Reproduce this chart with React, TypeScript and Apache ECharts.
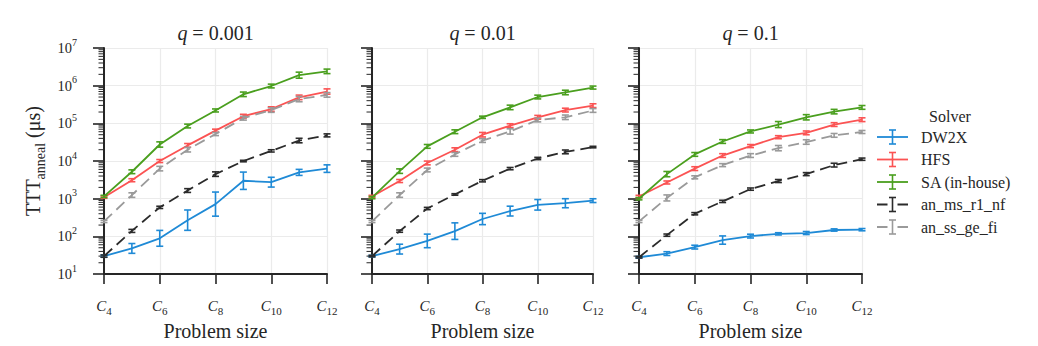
import React, { useEffect, useRef } from "react";
import * as echarts from "echarts";

// ---------- data ----------
const sizes = [4, 5, 6, 7, 8, 9, 10, 11, 12];
const qLabels = ["0.001", "0.01", "0.1"];
const solverNames = ["DW2X", "HFS", "SA (in-house)", "an_ms_r1_nf", "an_ss_ge_fi"];
const solverColors = ["#1f8ad6", "#fb5353", "#4a9f1e", "#2b2b2b", "#9a9a9a"];
const solverDashed = [false, false, false, true, true];

// q = 0.001
const dw2x_q1 = [30, 48, 89, 270, 720, 3000, 2750, 5000, 6300];
const hfs_q1 = [1100, 3100, 10000, 26000, 64000, 155000, 240000, 490000, 700000];
const sa_q1 = [1150, 5200, 27500, 85000, 220000, 590000, 980000, 1900000, 2400000];
const ms_q1 = [30, 140, 590, 1650, 4500, 10000, 18600, 35000, 48000];
const ss_q1 = [250, 1250, 6300, 20000, 52000, 137000, 225000, 440000, 570000];
// q = 0.01
const dw2x_q2 = [30, 46, 76, 138, 290, 470, 690, 760, 890];
const hfs_q2 = [1150, 2950, 8900, 20000, 50000, 87000, 145000, 225000, 295000];
const sa_q2 = [1070, 5400, 24500, 60000, 145000, 265000, 500000, 660000, 890000];
const ms_q2 = [30, 138, 550, 1300, 3000, 6300, 11700, 17500, 23500];
const ss_q2 = [250, 1250, 5800, 15000, 35000, 61000, 123000, 145000, 220000];
// q = 0.1
const dw2x_q3 = [28, 35, 52, 80, 102, 117, 123, 148, 151];
const hfs_q3 = [1150, 2700, 6300, 14000, 25000, 43000, 56000, 93000, 125000];
const sa_q3 = [1000, 4500, 15000, 33000, 61000, 93000, 145000, 205000, 265000];
const ms_q3 = [28, 108, 400, 850, 1800, 2950, 4500, 7800, 11200];
const ss_q3 = [250, 1050, 3700, 7800, 14000, 22000, 32000, 48000, 59000];

// error-bar half widths in decades (log10 units)
const dw2x_e1 = [0.03, 0.13, 0.21, 0.27, 0.32, 0.23, 0.13, 0.08, 0.1];
const hfs_e1 = [0.03, 0.04, 0.04, 0.05, 0.04, 0.05, 0.06, 0.06, 0.07];
const sa_e1 = [0.03, 0.05, 0.07, 0.05, 0.04, 0.06, 0.05, 0.08, 0.06];
const ms_e1 = [0.03, 0.04, 0.03, 0.05, 0.06, 0.02, 0.03, 0.06, 0.04];
const ss_e1 = [0.03, 0.06, 0.06, 0.06, 0.04, 0.05, 0.06, 0.07, 0.06];

const dw2x_e2 = [0.02, 0.13, 0.18, 0.22, 0.15, 0.13, 0.14, 0.12, 0.05];
const hfs_e2 = [0.03, 0.04, 0.05, 0.05, 0.06, 0.05, 0.05, 0.05, 0.05];
const sa_e2 = [0.03, 0.06, 0.05, 0.05, 0.03, 0.06, 0.05, 0.06, 0.04];
const ms_e2 = [0.02, 0.03, 0.03, 0.02, 0.03, 0.03, 0.03, 0.05, 0.02];
const ss_e2 = [0.03, 0.06, 0.05, 0.05, 0.05, 0.07, 0.05, 0.06, 0.05];

const dw2x_e3 = [0.02, 0.05, 0.05, 0.11, 0.05, 0.03, 0.04, 0.03, 0.03];
const hfs_e3 = [0.03, 0.04, 0.05, 0.05, 0.04, 0.04, 0.05, 0.05, 0.05];
const sa_e3 = [0.03, 0.07, 0.05, 0.05, 0.04, 0.08, 0.07, 0.06, 0.05];
const ms_e3 = [0.02, 0.03, 0.03, 0.03, 0.03, 0.04, 0.04, 0.05, 0.03];
const ss_e3 = [0.03, 0.08, 0.04, 0.04, 0.05, 0.07, 0.06, 0.05, 0.04];

const panelValues = [
  [dw2x_q1, hfs_q1, sa_q1, ms_q1, ss_q1],
  [dw2x_q2, hfs_q2, sa_q2, ms_q2, ss_q2],
  [dw2x_q3, hfs_q3, sa_q3, ms_q3, ss_q3],
];
const panelErrors = [
  [dw2x_e1, hfs_e1, sa_e1, ms_e1, ss_e1],
  [dw2x_e2, hfs_e2, sa_e2, ms_e2, ss_e2],
  [dw2x_e3, hfs_e3, sa_e3, ms_e3, ss_e3],
];

const yMin = 10;
const yMax = 1e7;
const minorMultipliers = [2, 3, 4, 5, 6, 7, 8, 9];
const minorDecades = [10, 100, 1000, 10000, 100000, 1000000];

// ---------- style ----------
const FONT = "'Liberation Serif', serif";
const INK = "#262626";
const GRID_COLOR = "#ebebeb";
const grids = [
  { left: 104, top: 48, width: 223, height: 229 },
  { left: 372, top: 48, width: 221, height: 229 },
  { left: 639, top: 48, width: 223, height: 229 },
];

const tok = (size: number, extra: any = {}) => ({
  fontFamily: FONT,
  fontSize: size,
  fontStyle: "normal",
  fontWeight: "normal",
  color: INK,
  fill: INK,
  ...extra,
});

function buildOption() {
  const xAxis: any[] = [];
  const yAxis: any[] = [];
  const series: any[] = [];
  const graphic: any[] = [];

  grids.forEach((g, i) => {
    xAxis.push({
      gridIndex: i,
      type: "value",
      min: 4,
      max: 12,
      interval: 2,
      axisLine: { show: true, onZero: false, lineStyle: { color: INK, width: 2 } },
      axisTick: { show: true, length: 10, lineStyle: { color: INK, width: 1.6 } },
      splitLine: { show: true, lineStyle: { color: GRID_COLOR, width: 1.2 } },
      axisLabel: {
        margin: 22,
        color: INK,
        fontFamily: FONT,
        formatter: (v: number) => `{c|C}{s|${v}}`,
        rich: {
          c: tok(15, { fontStyle: "italic", lineHeight: 20, verticalAlign: "middle" }),
          s: tok(11, { lineHeight: 20, verticalAlign: "bottom" }),
        },
      },
      name: "{n|Problem size}",
      nameLocation: "middle",
      nameGap: 44,
      nameTextStyle: { fontFamily: FONT, rich: { n: tok(20, { lineHeight: 24, verticalAlign: "middle" }) } },
    });
    yAxis.push({
      gridIndex: i,
      type: "log",
      logBase: 10,
      min: yMin,
      max: yMax,
      splitNumber: 6,
      axisLine: { show: true, lineStyle: { color: INK, width: 2 } },
      axisTick: { show: true, length: 11, lineStyle: { color: INK, width: 1.6 } },
      splitLine: { show: true, lineStyle: { color: GRID_COLOR, width: 1.2 } },
      axisLabel: {
        show: i === 0,
        margin: 27,
        color: INK,
        fontFamily: FONT,
        formatter: (v: number) => `{b|10}{sup|${Math.round(Math.log10(v))}}`,
        rich: {
          b: tok(14.5, { lineHeight: 22, verticalAlign: "middle" }),
          sup: tok(10, { lineHeight: 22, verticalAlign: "top" }),
        },
      },
      name: i === 0 ? "{m|TTT}{s|anneal}{m| (μs)}" : "",
      nameLocation: "middle",
      nameRotate: 90,
      nameGap: 57,
      nameTextStyle: {
        fontFamily: FONT,
        rich: {
          m: tok(20, { lineHeight: 28, verticalAlign: "middle" }),
          s: tok(14, { lineHeight: 28, verticalAlign: "bottom" }),
        },
      },
    });

    // minor ticks on the log axis
    const minorData: number[][] = [];
    minorDecades.forEach((d) => minorMultipliers.forEach((k) => minorData.push([4, k * d])));
    series.push({
      type: "custom",
      xAxisIndex: i,
      yAxisIndex: i,
      silent: true,
      clip: false,
      encode: { x: 0, y: 1 },
      data: minorData,
      z: 5,
      renderItem: (_p: any, api: any) => {
        const pt = api.coord([api.value(0), api.value(1)]);
        return {
          type: "line",
          shape: { x1: pt[0] - 5.5, y1: pt[1], x2: pt[0], y2: pt[1] },
          style: { stroke: INK, lineWidth: 1 },
        };
      },
    });

    solverNames.forEach((name, s) => {
      const vals = panelValues[i][s];
      const errs = panelErrors[i][s];
      const color = solverColors[s];
      series.push({
        type: "line",
        name,
        xAxisIndex: i,
        yAxisIndex: i,
        data: sizes.map((x, j) => [x, vals[j]]),
        showSymbol: false,
        symbol: "none",
        lineStyle: { color, width: 1.8, type: solverDashed[s] ? [11, 6] : "solid" },
        itemStyle: { color },
        z: 10 + s,
      });
      series.push({
        type: "custom",
        name: name + " err",
        xAxisIndex: i,
        yAxisIndex: i,
        clip: false,
        silent: true,
        encode: { x: 0, y: [1, 2] },
        data: sizes.map((x, j) => [x, vals[j] / Math.pow(10, errs[j]), vals[j] * Math.pow(10, errs[j])]),
        z: 10 + s,
        renderItem: (_p: any, api: any) => {
          const x = api.value(0);
          const a = api.coord([x, api.value(1)]);
          const b = api.coord([x, api.value(2)]);
          const w = 3.5;
          const st = { stroke: color, lineWidth: 1.6 };
          return {
            type: "group",
            children: [
              { type: "line", shape: { x1: a[0], y1: a[1], x2: b[0], y2: b[1] }, style: st },
              { type: "line", shape: { x1: a[0] - w, y1: a[1], x2: a[0] + w, y2: a[1] }, style: st },
              { type: "line", shape: { x1: b[0] - w, y1: b[1], x2: b[0] + w, y2: b[1] }, style: st },
            ],
          };
        },
      });
    });

    // panel title
    graphic.push({
      type: "text",
      x: g.left + g.width / 2,
      y: 33,
      style: {
        text: `{i|q}{n| = ${qLabels[i]}}`,
        fontFamily: FONT,
        fontSize: 19,
        fill: INK,
        align: "center",
        verticalAlign: "middle",
        rich: {
          i: tok(20, { fontStyle: "italic", lineHeight: 24, verticalAlign: "middle" }),
          n: tok(20, { lineHeight: 24, verticalAlign: "middle" }),
        },
      },
    });
  });

  // legend
  const legendX = 877;
  const legendIconW = 31;
  graphic.push({
    type: "text",
    x: 950,
    y: 116,
    style: {
      text: "{n|Solver}",
      fontFamily: FONT,
      fontSize: 16,
      fill: INK,
      align: "center",
      verticalAlign: "middle",
      rich: { n: tok(16, { lineHeight: 20, verticalAlign: "middle" }) },
    },
  });
  solverNames.forEach((name, s) => {
    const y = 137 + s * 22.5;
    const color = solverColors[s];
    const cx = legendX + legendIconW / 2;
    const st = { stroke: color, lineWidth: 1.8, lineDash: solverDashed[s] ? [10.5, 10] : null };
    graphic.push({ type: "line", shape: { x1: legendX, y1: y, x2: legendX + legendIconW, y2: y }, style: st });
    const bs = { stroke: color, lineWidth: 1.6 };
    graphic.push({ type: "line", shape: { x1: cx, y1: y - 7, x2: cx, y2: y + 7 }, style: bs });
    graphic.push({ type: "line", shape: { x1: cx - 3.5, y1: y - 7, x2: cx + 3.5, y2: y - 7 }, style: bs });
    graphic.push({ type: "line", shape: { x1: cx - 3.5, y1: y + 7, x2: cx + 3.5, y2: y + 7 }, style: bs });
    graphic.push({
      type: "text",
      x: 921,
      y,
      style: {
        text: `{n|${name}}`,
        fontFamily: FONT,
        fontSize: 16,
        fill: INK,
        align: "left",
        verticalAlign: "middle",
        rich: { n: tok(16, { lineHeight: 20, verticalAlign: "middle" }) },
      },
    });
  });

  return {
    animation: false,
    backgroundColor: "#ffffff",
    textStyle: { fontFamily: FONT },
    grid: grids,
    xAxis,
    yAxis,
    series,
    graphic,
  };
}

export default function App() {
  const ref = useRef<HTMLDivElement>(null);
  useEffect(() => {
    if (!ref.current) return;
    const chart = echarts.init(ref.current, undefined, { renderer: "svg" });
    chart.setOption(buildOption() as any);
    return () => chart.dispose();
  }, []);
  return (
    <div
      ref={ref}
      style={{ position: "absolute", left: 0, top: 0, width: 1038, height: 346, background: "#fff" }}
    />
  );
}
